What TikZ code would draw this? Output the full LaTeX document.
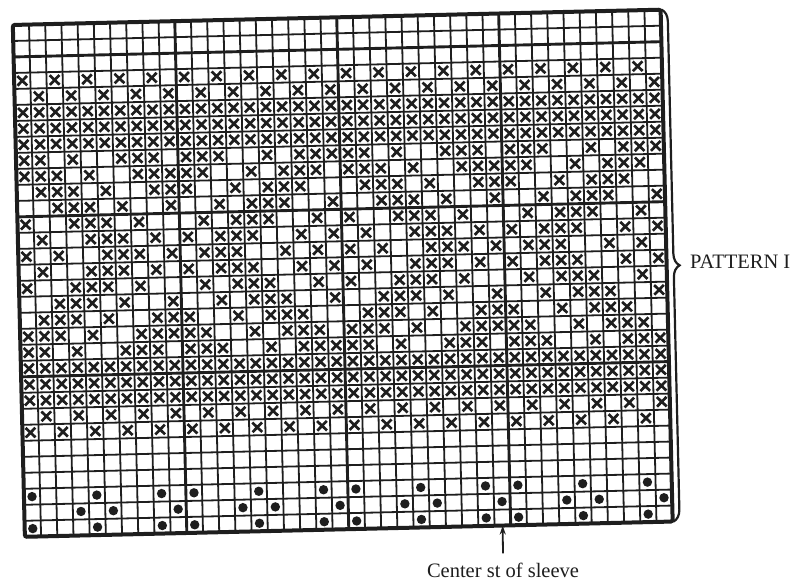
\documentclass[tikz,border=0pt]{standalone}
\usepackage{fontspec}
\setmainfont{Liberation Serif}
\usetikzlibrary{decorations.pathreplacing,arrows.meta}
\definecolor{ink}{RGB}{30,30,30}
\tikzset{
  gridline/.style={ink, line width=1.8pt},
  tenline/.style={ink, line width=2.9pt},
  frameline/.style={ink, line width=4pt, rounded corners=2pt},
  xline/.style={ink, line width=2.7pt},
  stdot/.style={fill=ink},
  bracestyle/.style={ink, line width=2.2pt, decorate, decoration={brace, amplitude=12pt}},
  labeltext/.style={font=\fontsize{20.5}{20.5}\selectfont, text=ink, inner sep=0pt},
  pointer/.style={ink, line width=1.8pt, -{Stealth[length=9pt,width=6pt]}},
}
\newcommand\xcell[2]{\draw[xline] (#1-0.5-0.3,#2-0.5-0.3) -- (#1-0.5+0.3,#2-0.5+0.3) (#1-0.5-0.3,#2-0.5+0.3) -- (#1-0.5+0.3,#2-0.5-0.3);}
\newcommand\dotcell[2]{\fill[stdot] (#1-0.5,#2-0.5) circle (4.7pt);}
\begin{document}
\begin{tikzpicture}
\useasboundingbox (0pt,0pt) rectangle (803pt,-583pt);
\begin{scope}[shift={(342.75pt,-273.25pt)}, rotate=1.35, x=16.2pt, y=-16pt, shift={(-20,-16)}]
  % grid lines
  \foreach \i in {1,...,39}{
    \pgfmathtruncatemacro\t{mod(\i,10)}
    \ifnum\t=0 \draw[tenline] (\i,0) -- (\i,32); \else \draw[gridline] (\i,0) -- (\i,32); \fi
  }
  \foreach \j in {1,...,31}{
    \pgfmathtruncatemacro\t{mod(\j+8,10)}
    \ifnum\t=0 \draw[tenline] (0,\j) -- (40,\j); \else \draw[gridline] (0,\j) -- (40,\j); \fi
  }
  % marks
  \foreach \c in {1,...,40}{
    \pgfmathtruncatemacro\odd{mod(\c,2)}
    \ifnum\odd=1 \xcell{\c}{4}\xcell{\c}{26}\else \xcell{\c}{5}\xcell{\c}{25}\fi
    \foreach \r in {6,7,8,22,23,24}{\xcell{\c}{\r}}
    \pgfmathtruncatemacro\m{mod(\c,20)}
    \pgfmathtruncatemacro\d{\m>=10 ? \m-10 : 10-\m}
    \foreach \r in {9,...,21}{
      \pgfmathtruncatemacro\rr{\r<=15 ? \r : 30-\r}
      \pgfmathtruncatemacro\k{\d+\rr-9}
      \pgfmathtruncatemacro\v{{0,1,1,1,0,0,1,0,1,1,1,0,0,1,0,1,0}[\k]}
      \ifnum\v=1 \xcell{\c}{\r}\fi
    }
    \pgfmathtruncatemacro\n{mod(\c,10)}
    \ifcase\n \dotcell{\c}{31}\or \dotcell{\c}{30}\dotcell{\c}{32}\or\or\or \dotcell{\c}{31}\or \dotcell{\c}{30}\dotcell{\c}{32}\or \dotcell{\c}{31}\or\or\or \dotcell{\c}{30}\dotcell{\c}{32}\fi
  }
  \draw[frameline] (0,0) rectangle (40,32);
  \draw[bracestyle] (40.06,0) -- (40.06,32);
  \coordinate (c30) at (29.5,32);
\end{scope}
\node[labeltext, anchor=base west] (pat) at (690pt,-268.5pt) {PATTERN I};
\node[labeltext, anchor=base] (ctr) at (503pt,-577pt) {Center st of sleeve};
\draw[pointer] ([yshift=9pt]ctr.north) -- (c30);
\end{tikzpicture}
\end{document}
